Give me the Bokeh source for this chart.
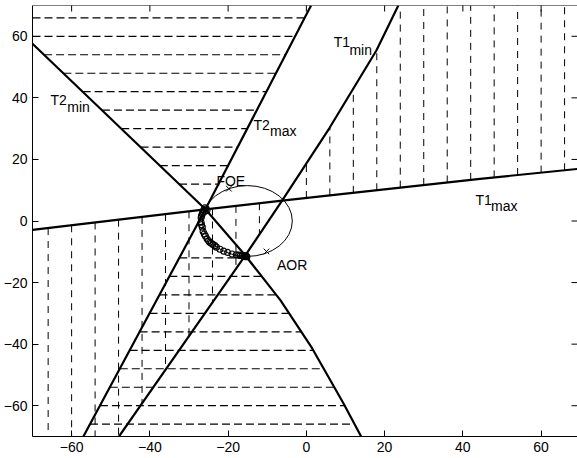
import numpy as np
from bokeh.plotting import figure
from bokeh.models import Range1d, FixedTicker, Span
from bokeh.core.properties import value
from bokeh.embed import file_html
from bokeh.resources import INLINE

# ---- constraint curves (points along each boundary) ----
t1min_x = [-47.9, -15.6, -6.2, 5.9, 17.9, 23.5]
t1min_y = [-70.0, -11.2, 6.6, 30.2, 55.4, 70.0]

t1max_x = [-70.0, -25.8, -6.2, 44.4, 70.0]
t1max_y = [-2.9, 3.8, 6.6, 13.7, 17.0]

t2min_x = [-70.0, -47.9, -25.8, -15.6, -6.6, 1.5, 9.5, 14.0]
t2min_y = [57.6, 30.7, 3.8, -11.2, -25.8, -41.4, -59.3, -70.0]

t2max_x = [-57.0, -25.8, 1.2]
t2max_y = [-70.0, 3.8, 70.0]

# ---- hatching levels ----
t2_hatch_upper = [12, 18, 24, 30, 36, 42, 48, 54, 60, 66]
t2_hatch_lower = [-12, -18, -24, -30, -36, -42, -48, -54, -60, -66]
t1_hatch_left = [-66, -60, -54, -48, -42, -36, -30, -24, -18, -12]
t1_hatch_right = [0, 6, 12, 18, 24, 30, 36, 42, 48, 54, 60, 66]

# ---- circle through the two intersection points ----
circle_cx = -15.1
circle_cy = 0.0
circle_r = 11.5

# ---- estimated positions (open circles) ----
est_x = [-25.6, -25.9, -26.2, -26.0, -25.4, -26.4, -26.6, -26.8, -26.9, -26.9,
         -26.8, -26.6, -26.4, -26.1, -25.8, -25.4, -25.0, -24.7, -24.3, -23.9,
         -23.4, -23.0, -22.1, -21.1, -20.1, -19.0, -17.9, -17.3, -16.9, -16.4,
         -16.0, -15.7, -15.4, -15.2, -15.6, -15.9]
est_y = [4.0, 4.3, 3.6, 3.1, 3.4, 2.9, 2.3, 1.7, 1.0, -0.4,
         -1.2, -2.0, -3.3, -4.2, -4.9, -5.8, -6.4, -6.9, -7.2, -7.6,
         -8.0, -8.5, -9.2, -9.8, -10.2, -10.7, -11.0, -11.1, -11.2, -11.3,
         -11.3, -11.4, -11.2, -11.6, -11.6, -11.5]

# ---- FOE / AOR marks ----
mark_x = [-19.8, -10.2]
mark_y = [10.5, -9.9]

x_ticks = [-60, -40, -20, 0, 20, 40, 60]
y_ticks = [-60, -40, -20, 0, 20, 40, 60]

FONT = "Liberation Sans"


def y_on(xs, ys, x):
    return np.interp(x, xs, ys)


def x_on(xs, ys, y):
    xs = np.asarray(xs, float)
    ys = np.asarray(ys, float)
    order = np.argsort(ys)
    return np.interp(y, ys[order], xs[order])


X_LO, X_HI, Y_LO, Y_HI = -70, 69.3, -70, 70

p = figure(width=577, height=458,
           x_range=Range1d(X_LO, X_HI), y_range=Range1d(Y_LO, Y_HI),
           output_backend="svg", toolbar_location=None,
           min_border_left=32, min_border_right=0,
           min_border_top=5, min_border_bottom=22)
p.grid.visible = False
p.outline_line_color = None
p.background_fill_color = "white"
p.border_fill_color = "white"

for ax, ticks in ((p.xaxis[0], x_ticks), (p.yaxis[0], y_ticks)):
    ax.ticker = FixedTicker(ticks=ticks)
    ax.major_tick_in = 6
    ax.major_tick_out = 0
    ax.minor_tick_line_color = None
    ax.axis_line_color = "black"
    ax.axis_line_width = 1
    ax.major_tick_line_color = "black"
    ax.major_label_text_font = FONT
    ax.major_label_text_font_size = "14px"
    ax.major_label_text_color = "black"
    ax.major_label_standoff = 5

# top edge of the box
p.add_layout(Span(location=Y_HI, dimension="width", line_color="black", line_width=1))

# ---- horizontal hatching between the T2 curves ----
hx0, hx1, hy = [], [], []
for yy in t2_hatch_upper:
    hx0.append(x_on(t2min_x, t2min_y, yy))
    hx1.append(x_on(t2max_x, t2max_y, yy))
    hy.append(yy)
for yy in t2_hatch_lower:
    hx0.append(x_on(t2max_x, t2max_y, yy))
    hx1.append(x_on(t2min_x, t2min_y, yy))
    hy.append(yy)
p.segment(x0=hx0, y0=hy, x1=hx1, y1=hy, line_color="black",
          line_width=1.2, line_dash="8 4")

# ---- vertical hatching between the T1 curves ----
vx, vy0, vy1 = [], [], []
for xx in t1_hatch_left + t1_hatch_right:
    vx.append(xx)
    vy0.append(y_on(t1max_x, t1max_y, xx))
    vy1.append(y_on(t1min_x, t1min_y, xx))
p.segment(x0=vx, y0=vy0, x1=vx, y1=vy1, line_color="black",
          line_width=1.0, line_dash="7 6")

# ---- boundary curves ----
for cx, cy in ((t1min_x, t1min_y), (t1max_x, t1max_y),
               (t2min_x, t2min_y), (t2max_x, t2max_y)):
    p.line(cx, cy, line_color="black", line_width=2.2, line_join="round")

# ---- inward tick marks on the top and right edges of the box ----
p.scatter(x_ticks, [Y_HI] * len(x_ticks), marker="dash", angle=np.pi / 2,
          size=12, line_color="black", line_width=1)
p.scatter([X_HI] * len(y_ticks), y_ticks, marker="dash",
          size=12, line_color="black", line_width=1)

# ---- circle, estimates, marks ----
p.ellipse(x=[circle_cx], y=[circle_cy], width=[2 * circle_r], height=[2 * circle_r],
          fill_color=None, line_color="black", line_width=1)
p.scatter(est_x, est_y, marker="circle", size=6, fill_color=None,
          line_color="black", line_width=1.1)
p.scatter(mark_x, mark_y, marker="x", size=8, line_color="black", line_width=1)

# ---- labels with subscripts ----
main_text = ["T2", "T2", "T1", "T1", "FOE", "AOR"]
main_x = [-65.4, -13.5, 7.0, 43.2, -23.0, -7.5]
main_y = [39.2, 31.2, 58.1, 6.9, 13.1, -14.4]
sub_text = ["min", "max", "min", "max"]
sub_x = [-61.1, -9.3, 11.0, 47.2]
sub_y = [36.9, 29.1, 55.6, 5.0]

p.text(x=main_x, y=main_y, text=main_text, text_font=value(FONT),
       text_font_size="14px", text_color="black",
       text_baseline="alphabetic", text_align="left")
p.text(x=sub_x, y=sub_y, text=sub_text, text_font=value(FONT),
       text_font_size="14px", text_color="black",
       text_baseline="alphabetic", text_align="left")

open("out.html", "w").write(file_html(p, INLINE))
